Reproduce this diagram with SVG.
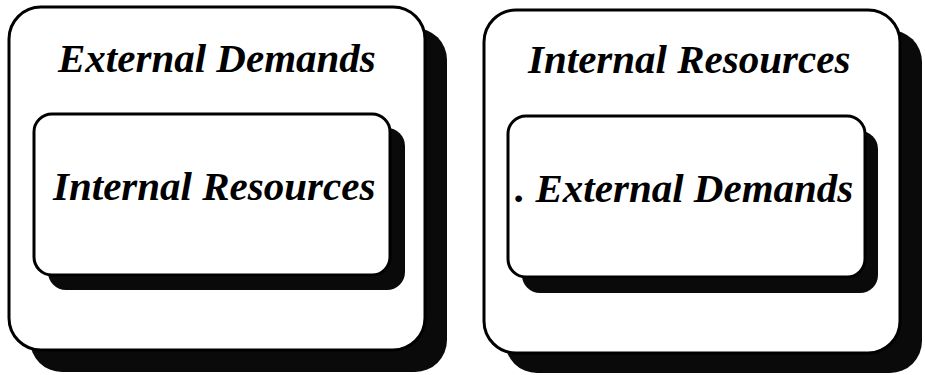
<svg xmlns="http://www.w3.org/2000/svg" width="925" height="375" viewBox="0 0 925 375">
<style>
.shadow{fill:#0a0a0a}
.box{fill:#fff;stroke:#000;stroke-width:3}
.lbl{font-family:"Liberation Serif","Times New Roman",serif;font-weight:bold;font-style:italic;font-size:41px;fill:#000}
</style>
<rect width="925" height="375" fill="#fff"/>
<g id="left-outer">
<rect class="shadow" x="30" y="28" width="417" height="344" rx="32"/>
<rect class="box" x="9" y="7" width="416" height="343" rx="32"/>
<text class="lbl" x="58" y="72">External Demands</text>
</g>
<g id="left-inner">
<rect class="shadow" x="48" y="128" width="357" height="162" rx="18"/>
<rect class="box" x="34" y="114" width="356" height="161" rx="18"/>
<text class="lbl" x="53" y="200">Internal Resources</text>
</g>
<g id="right-outer">
<rect class="shadow" x="505" y="30" width="417" height="343" rx="32"/>
<rect class="box" x="484" y="10" width="416" height="343" rx="32"/>
<text class="lbl" x="528" y="73">Internal Resources</text>
</g>
<g id="right-inner">
<rect class="shadow" x="522" y="131" width="356" height="162" rx="18"/>
<rect class="box" x="508" y="116" width="357" height="161" rx="18"/>
<text class="lbl" x="515" y="202">. External Demands</text>
</g>
<g id="connectors"/>
</svg>
